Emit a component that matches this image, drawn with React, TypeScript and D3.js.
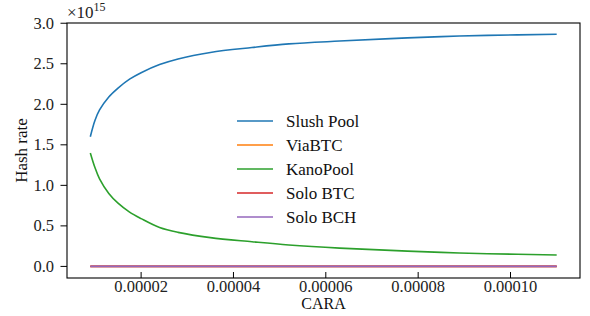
import React from "react";
import * as d3 from "d3";

const cara = [9e-6, 1.0e-5, 1.1e-5, 1.3e-5, 1.5e-5, 1.75e-5, 2.0e-5, 2.4e-5, 2.8e-5, 3.5e-5, 4.4e-5, 5.2e-5, 6.3e-5, 7.4e-5, 8.5e-5, 9.5e-5, 1.1e-4];
const slushPool = [1.6, 1.8, 1.93, 2.09, 2.2, 2.31, 2.39, 2.49, 2.56, 2.64, 2.7, 2.745, 2.78, 2.81, 2.835, 2.85, 2.865];
const viaBTC = [0, 0, 0, 0, 0, 0, 0, 0, 0, 0, 0, 0, 0, 0, 0, 0, 0];
const kanoPool = [1.4, 1.22, 1.08, 0.9, 0.78, 0.67, 0.59, 0.48, 0.42, 0.355, 0.305, 0.265, 0.226, 0.198, 0.173, 0.157, 0.14];
const soloBTC = [0, 0, 0, 0, 0, 0, 0, 0, 0, 0, 0, 0, 0, 0, 0, 0, 0];
const soloBCH = [0, 0, 0, 0, 0, 0, 0, 0, 0, 0, 0, 0, 0, 0, 0, 0, 0];

const seriesNames = ["Slush Pool", "ViaBTC", "KanoPool", "Solo BTC", "Solo BCH"];
const seriesValues = [slushPool, viaBTC, kanoPool, soloBTC, soloBCH];
const colors = ["#1f77b4", "#ff7f0e", "#2ca02c", "#d62728", "#9467bd"];

const xTicks = [0.00002, 0.00004, 0.00006, 0.00008, 0.0001];
const xTickLabels = ["0.00002", "0.00004", "0.00006", "0.00008", "0.00010"];
const yTicks = [0, 0.5, 1.0, 1.5, 2.0, 2.5, 3.0];
const yTickLabels = ["0.0", "0.5", "1.0", "1.5", "2.0", "2.5", "3.0"];

const W = 590, H = 316;
const L = 67, R = 580, T = 23, B = 278;
const FONT = "'Liberation Serif', 'Times New Roman', serif";

export default function App() {
  const xMin = 9e-6, xMax = 1.1e-4;
  const pad = (xMax - xMin) * 0.05;
  const x = d3.scaleLinear().domain([xMin - pad, xMax + pad]).range([L, R]);
  const y = d3.scaleLinear().domain([-0.143, 3.003]).range([B, T]);
  const line = d3.line<number>()
    .x((_, i) => x(cara[i]))
    .y((d) => y(d))
    .curve(d3.curveCatmullRom.alpha(0.5));

  return (
    <svg width={W} height={H} style={{ position: "absolute", left: 0, top: 0, background: "#fff" }}>
      <rect x={0} y={0} width={W} height={H} fill="#fff" />
      {seriesValues.map((vals, i) => (
        <path key={seriesNames[i]} d={line(vals) || ""} fill="none" stroke={colors[i]} strokeWidth={1.6} />
      ))}
      <rect x={L} y={T} width={R - L} height={B - T} fill="none" stroke="#000" strokeWidth={1.1} />
      {xTicks.map((t, i) => (
        <g key={"x" + i}>
          <line x1={x(t)} x2={x(t)} y1={B} y2={B - 6} stroke="#000" strokeWidth={1} />
          <text x={x(t)} y={292} textAnchor="middle" fontFamily={FONT} fontSize={16.5} fill="#222">{xTickLabels[i]}</text>
        </g>
      ))}
      {yTicks.map((t, i) => (
        <g key={"y" + i}>
          <line x1={L - 6.5} x2={L} y1={y(t)} y2={y(t)} stroke="#000" strokeWidth={1} />
          <text x={54} y={y(t) + 5.5} textAnchor="end" fontFamily={FONT} fontSize={16.5} fill="#222">{yTickLabels[i]}</text>
        </g>
      ))}
      <text x={(L + R) / 2} y={308.5} textAnchor="middle" fontFamily={FONT} fontSize={16} fill="#111">CARA</text>
      <text transform={`translate(27,${(T + B) / 2}) rotate(-90)`} textAnchor="middle" fontFamily={FONT} fontSize={17} fill="#111">Hash rate</text>
      <text x={67} y={18} fontFamily={FONT} fontSize={17} fill="#222">×10<tspan dy={-7} fontSize={12}>15</tspan></text>
      {seriesNames.map((n, i) => (
        <g key={"lg" + i}>
          <line x1={237} x2={273} y1={121 + i * 24} y2={121 + i * 24} stroke={colors[i]} strokeWidth={1.6} />
          <text x={286} y={121 + i * 24 + 5.5} fontFamily={FONT} fontSize={17} fill="#111">{n}</text>
        </g>
      ))}
    </svg>
  );
}
